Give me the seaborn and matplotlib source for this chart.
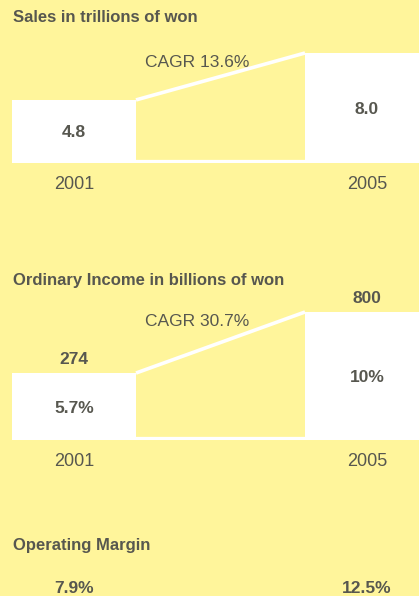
import matplotlib
matplotlib.use("Agg")
import matplotlib.pyplot as plt
import matplotlib.transforms as mtransforms
import seaborn as sns

# data
years = ["2001", "2005"]
sales = [4.8, 8.0]                 # trillions of won
ordinary_income = [274, 800]       # billions of won
ordinary_margin = ["5.7%", "10%"]
operating_margin = ["7.9%", "12.5%"]

YELLOW = "#fff59b"
TEXT = "#57574f"

sns.set_theme(style="white", rc={"figure.facecolor": YELLOW, "axes.facecolor": YELLOW})
plt.rcParams["font.family"] = ["Liberation Sans", "DejaVu Sans"]

W, H = 419, 596
fig = plt.figure(figsize=(W / 100, H / 100), dpi=100)

bar_w = 124 / 293
xlim = (-74 / 293, (W - 74) / 293)


def cagr(v):
    return (v[1] / v[0]) ** (1 / 4) - 1


def panel(values, floor, base_px, top_px, peak_px):
    ax = fig.add_axes([0, 1 - base_px / H, 1, (base_px - top_px) / H])
    heights = [v - floor for v in values]
    sns.barplot(x=years, y=heights, bottom=floor, color="white", saturation=1,
                width=bar_w, linewidth=0, ax=ax)
    top = floor + (max(values) - floor) * (base_px - top_px) / (base_px - peak_px)
    ax.set_ylim(floor, top)
    ax.set_xlim(xlim)
    # growth line and base strip between the bars
    ax.plot([bar_w / 2, 1 - bar_w / 2], values, color="white", lw=2.6,
            solid_capstyle="butt")
    ax.plot([bar_w / 2, 1 - bar_w / 2], [floor, floor], color="white", lw=4.5)
    ax.annotate(f"CAGR {cagr(values) * 100:.1f}%", xy=(0.42, max(values)),
                xytext=(0, -6), textcoords="offset points", ha="center",
                va="center_baseline", fontsize=12.5, color=TEXT)
    ax.tick_params(axis="x", length=0, pad=9.5, labelsize=13, labelcolor=TEXT)
    ax.set_yticks([])
    ax.set_xlabel("")
    ax.set_ylabel("")
    sns.despine(ax=ax, left=True, bottom=True)
    return ax


# Sales
ax1 = panel(sales, 0.5, 163, 40, 53)
for i, v in enumerate(sales):
    ax1.text(i, (0.5 + v) / 2, f"{v:.1f}", ha="center", va="center_baseline",
             fontsize=12.5, fontweight="bold", color=TEXT)

# Ordinary income
floor2 = -303
ax2 = panel(ordinary_income, floor2, 440, 300, 312)
for i, v in enumerate(ordinary_income):
    ax2.annotate(str(v), xy=(i, v), xytext=(0, 10.5), textcoords="offset points",
                 ha="center", va="center_baseline", fontsize=12.5,
                 fontweight="bold", color=TEXT)
    ax2.text(i, (floor2 + v) / 2, ordinary_margin[i], ha="center",
             va="center_baseline", fontsize=12.5, fontweight="bold", color=TEXT)

# Operating margin row
blend = mtransforms.blended_transform_factory(ax2.transData, fig.transFigure)
for i, m in enumerate(operating_margin):
    fig.text(i, 1 - 587 / H, m, transform=blend, ha="center", va="center_baseline",
             fontsize=12.5, fontweight="bold", color=TEXT)

for y, t in [(16.5, "Sales in trillions of won"),
             (279, "Ordinary Income in billions of won"),
             (544, "Operating Margin")]:
    fig.text(13 / W, 1 - y / H, t, ha="left", va="center_baseline", fontsize=12,
             fontweight="bold", color=TEXT)

fig.savefig("out.png", dpi=100, facecolor=YELLOW)
